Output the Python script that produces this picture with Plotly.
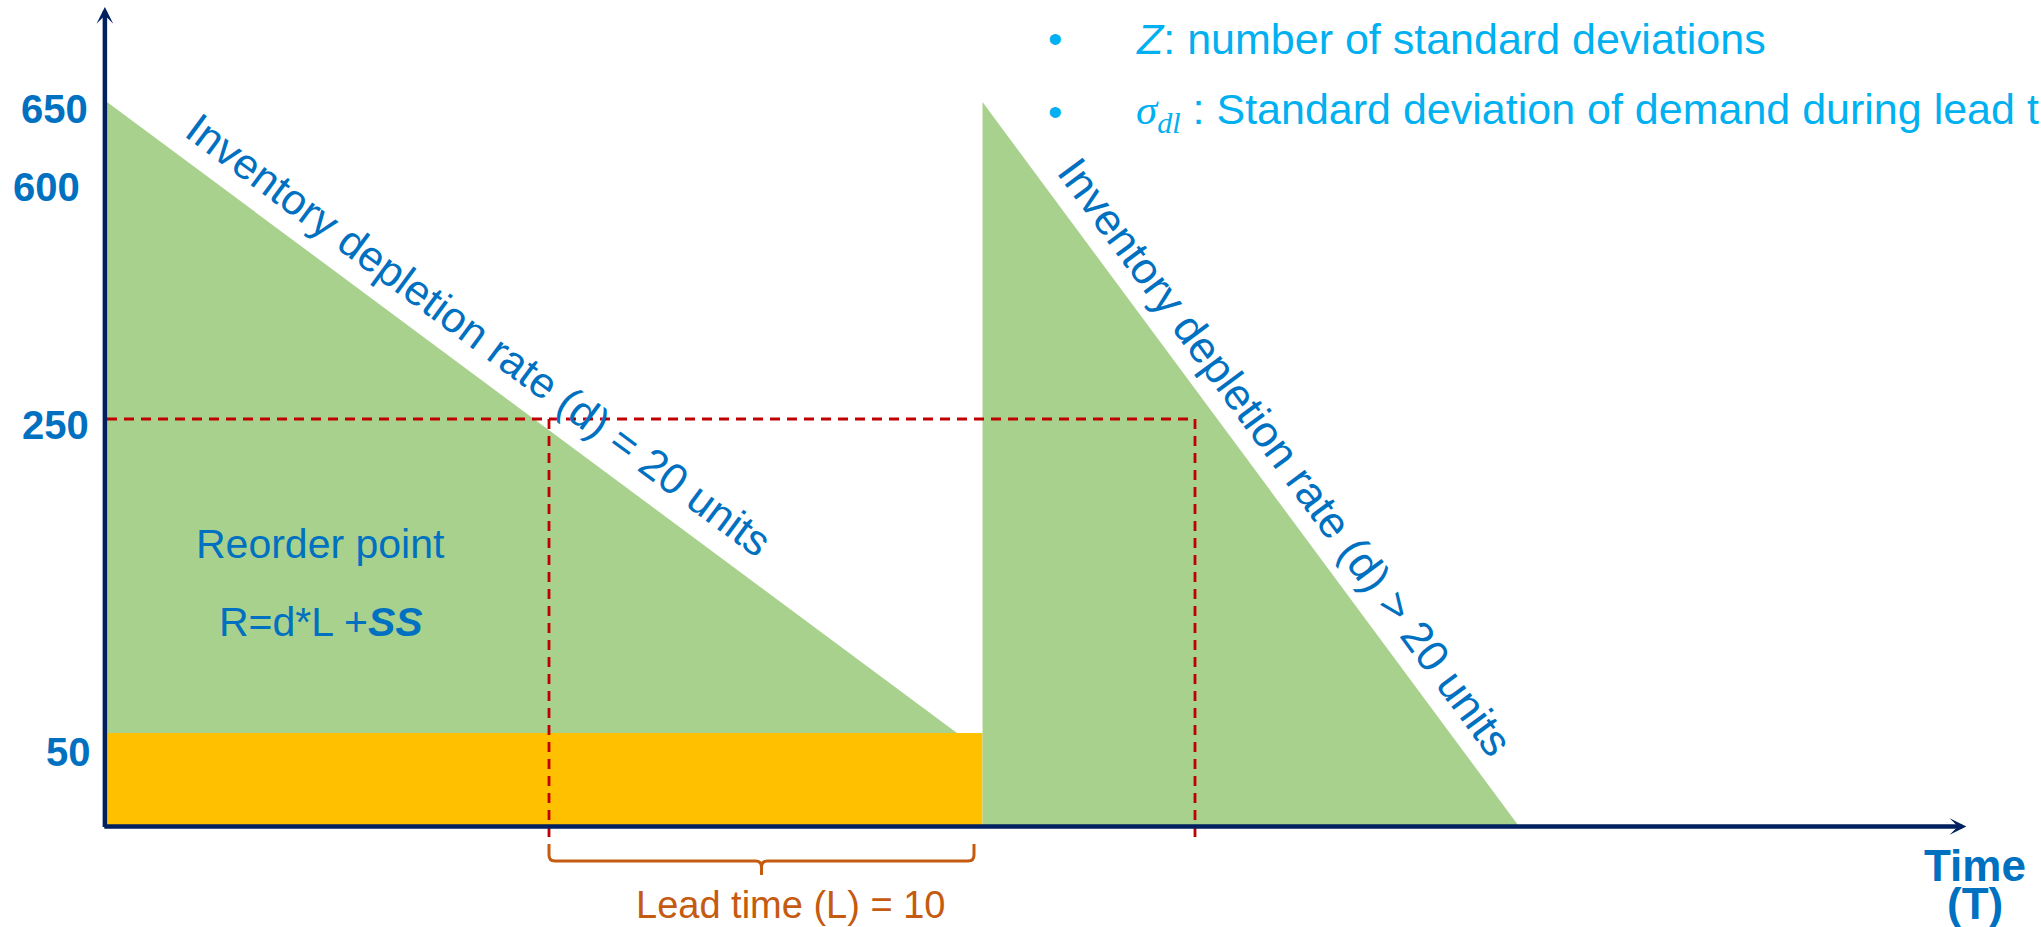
import numpy as np
import plotly.graph_objects as go

# ---------------- data ----------------
level_ticks = [650, 600, 250, 50]
level_tick_text = ["650", "600", "250", "50"]

order_level = 650            # stock right after replenishment
safety_stock = 50            # SS
reorder_level = 250          # R
lead_time = 10               # L

cycle1_time = [0, 20]        # cycle 1: start, stock reaches SS
cycle2_time = [20.6, 33.2]   # cycle 2: start, stock runs out
reorder_time = [10.4, 25.6]  # orders placed when stock hits R
ss_end_time = 20.6
time_axis_end = 43.75

rate_labels = ["Inventory depletion rate (d) = 20 units",
               "Inventory depletion rate (d) > 20 units"]

# ---------------- scales ----------------
# The vertical axis is schematic: labelled levels are spread out for legibility.
LEVEL_STOPS = [0, 50, 250, 600, 650]
HEIGHT_STOPS = [0, 92, 406, 638, 723]


def lv(v):
    return float(np.interp(v, LEVEL_STOPS, HEIGHT_STOPS))


W, H = 2041, 927
UNIT = 42.5                      # px per time unit
X0_PX, Y0_PX = 107, 825          # where time 0 / level 0 sit
X_RANGE = [-X0_PX / UNIT, (W - X0_PX) / UNIT]
Y_RANGE = [Y0_PX - H, Y0_PX]


def at(px, py):
    return dict(x=px / W, y=1 - py / H, xref="paper", yref="paper",
                xanchor="center", yanchor="middle", showarrow=False)


FONT = "Liberation Sans, Arial, sans-serif"
BLUE = "#0070C0"
LIGHT_BLUE = "#00B0F0"
GREEN = "#A9D18E"
GOLD = "#FFC000"
NAVY = "#002060"
RED = "#C00000"
BROWN = "#C55A11"

fig = go.Figure()

# cycle 1 depletion triangle
fig.add_trace(go.Scatter(
    x=[cycle1_time[0], cycle1_time[1], cycle1_time[0]],
    y=[lv(order_level), lv(safety_stock), lv(safety_stock)],
    fill="toself", fillcolor=GREEN, mode="lines", line=dict(width=0),
    hoverinfo="skip"))

# safety stock band
fig.add_trace(go.Scatter(
    x=[0, ss_end_time, ss_end_time, 0],
    y=[lv(0), lv(0), lv(safety_stock), lv(safety_stock)],
    fill="toself", fillcolor=GOLD, mode="lines", line=dict(width=0),
    hoverinfo="skip"))

# cycle 2 depletion triangle
fig.add_trace(go.Scatter(
    x=[cycle2_time[0], cycle2_time[0], cycle2_time[1]],
    y=[lv(order_level), lv(0), lv(0)],
    fill="toself", fillcolor=GREEN, mode="lines", line=dict(width=0),
    hoverinfo="skip"))

# reorder level and reorder moments
dash = dict(color=RED, width=2.8, dash="10px,7px")
fig.add_trace(go.Scatter(
    x=[0, reorder_time[1]], y=[lv(reorder_level)] * 2,
    mode="lines", line=dash, hoverinfo="skip"))
for t in reorder_time:
    fig.add_trace(go.Scatter(
        x=[t, t], y=[lv(reorder_level), -12],
        mode="lines", line=dash, hoverinfo="skip"))

annotations = []

# axes with arrow heads
arrow = dict(text="", showarrow=True, arrowhead=3, arrowsize=0.62,
             arrowwidth=4.5, arrowcolor=NAVY,
             xref="x", yref="y", axref="x", ayref="y")
annotations.append(dict(arrow, x=time_axis_end, y=-1.5, ax=-0.1, ay=-1.5))
annotations.append(dict(arrow, x=-0.05, y=818, ax=-0.05, ay=-3.5))

# level labels on the vertical axis
label_yshift = [-7, 0, -6, -19]
label_xshift = [-17, -25, -16, -14]
for v, txt, dy, dx in zip(level_ticks, level_tick_text, label_yshift, label_xshift):
    annotations.append(dict(
        x=0, y=lv(v), xref="x", yref="y", xanchor="right", yanchor="middle",
        xshift=dx, yshift=dy, showarrow=False, text=f"<b>{txt}</b>",
        font=dict(family=FONT, size=40, color=BLUE)))

# lead time bracket
x0 = reorder_time[0]
x1 = x0 + lead_time
xm = (x0 + x1) / 2
rx, ry = 6 / UNIT, 6
top, mid, low = -19, -36, -50
bracket = (
    f"M {x0},{top} L {x0},{mid + ry} Q {x0},{mid} {x0 + rx},{mid} "
    f"L {xm - rx},{mid} Q {xm},{mid} {xm},{mid - ry} L {xm},{low} "
    f"M {xm},{mid - ry} Q {xm},{mid} {xm + rx},{mid} "
    f"L {x1 - rx},{mid} Q {x1},{mid} {x1},{mid + ry} L {x1},{top}"
)
fig.add_shape(type="path", path=bracket, xref="x", yref="y",
              line=dict(color=BROWN, width=3))
annotations.append(dict(
    x=xm, y=-80, xref="x", yref="y", xshift=29, showarrow=False,
    xanchor="center", yanchor="middle",
    text=f"Lead time (L) = {lead_time}",
    font=dict(family=FONT, size=38, color=BROWN)))

# texts inside the chart
annotations.append(dict(**at(320, 544), text="Reorder point",
                        font=dict(family=FONT, size=41, color=BLUE)))
annotations.append(dict(**at(321, 622), text="R=d*L +<b><i>SS</i></b>",
                        font=dict(family=FONT, size=41, color=BLUE)))
annotations.append(dict(**at(479, 335), textangle=36.4, text=rate_labels[0],
                        font=dict(family=FONT, size=43, color=BLUE)))
annotations.append(dict(**at(1285, 457), textangle=53.5, text=rate_labels[1],
                        font=dict(family=FONT, size=44, color=BLUE)))

# time axis title
annotations.append(dict(**at(1975, 865), text="<b>Time</b>",
                        font=dict(family=FONT, size=44, color=BLUE)))
annotations.append(dict(**at(1975, 903), text="<b>(T)</b>",
                        font=dict(family=FONT, size=44, color=BLUE)))

# definitions list
bullets = [
    "<i>Z</i>: number of standard deviations",
    "<span style=\"font-family:'Liberation Serif'\"><i>σ</i><sub><i>dl</i></sub></span>"
    " : Standard deviation of demand during lead time",
]
for i, txt in enumerate(bullets):
    py = 39 + 73 * i
    annotations.append(dict(**at(1055, py), text="•",
                            font=dict(family=FONT, size=41, color=LIGHT_BLUE)))
    left = at(1134, py)
    left["xanchor"] = "left"
    annotations.append(dict(**left, text=txt,
                            font=dict(family=FONT, size=43, color=LIGHT_BLUE)))

fig.update_layout(
    width=W, height=H,
    margin=dict(l=0, r=0, t=0, b=0),
    paper_bgcolor="white", plot_bgcolor="white",
    showlegend=False, hovermode=False,
    xaxis=dict(range=X_RANGE, visible=False, fixedrange=True),
    yaxis=dict(range=Y_RANGE, visible=False, fixedrange=True),
    annotations=annotations,
)

fig.write_html("out.html", config={"displayModeBar": False})
